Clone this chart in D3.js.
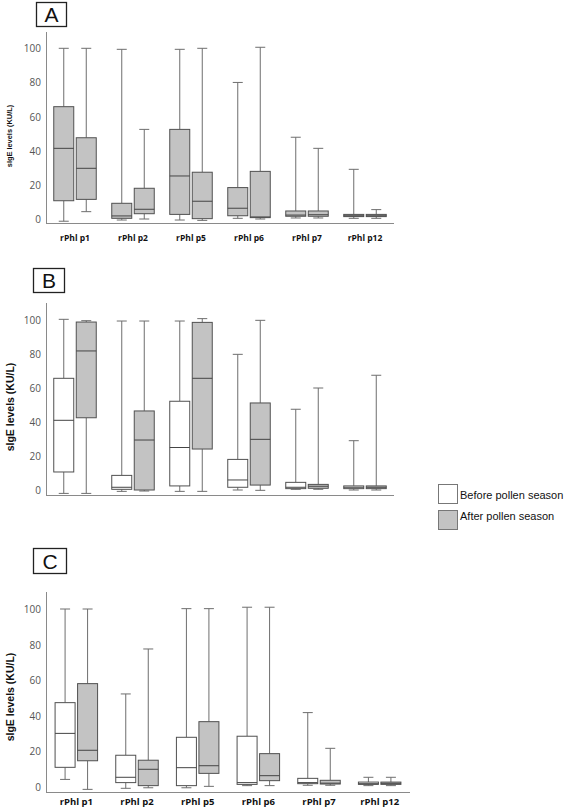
<!DOCTYPE html>
<html>
<head>
<meta charset="utf-8">
<script src="https://cdn.jsdelivr.net/npm/d3@7"></script>
<style>
  html, body { margin: 0; padding: 0; background: #fff; }
  svg { display: block; }
</style>
</head>
<body>
<svg id="chart" width="567" height="809"></svg>
<script>
// ---------------- DATA ----------------
const categories = ["rPhl p1", "rPhl p2", "rPhl p5", "rPhl p6", "rPhl p7", "rPhl p12"];
const tickLabels = [0, 20, 40, 60, 80, 100];
const seriesNames = ["Before pollen season", "After pollen season"];
const panelLetters = ["A", "B", "C"];

// five-number summaries: [low whisker, Q1, median, Q3, high whisker]
const aBefore = [[-1.3, 10.7, 41.4, 65.8, 100], [-0.6, 0.4, 1.8, 9.2, 99.4], [-0.6, 2.7, 25.2, 52.5, 99.4], [0.4, 1.9, 6.3, 18.4, 80], [0.6, 1.6, 2.3, 4.7, 47.9], [0.4, 1.4, 1.9, 2.7, 29.1]];
const aAfter  = [[4.3, 11.5, 29.7, 47.6, 100], [0, 3.1, 5.7, 18, 52.5], [-0.8, 0.2, 10.4, 27.4, 100], [0, 0.8, 1.2, 27.9, 100.6], [0.6, 1.6, 2.5, 4.7, 41.4], [0.4, 1.4, 1.9, 2.7, 5.5]];
const bBefore = [[-2, 10.6, 41, 65.7, 100.4], [-0.8, 0.4, 1.6, 8.6, 99.4], [-0.8, 2.4, 25, 52.2, 99.4], [0, 1.6, 5.9, 18, 79.8], [0.4, 0.8, 1.6, 4.5, 47.5], [0, 0.8, 1.6, 2.4, 29]];
const bAfter  = [[-2, 42.5, 81.8, 98.8, 99.6], [-0.6, 0, 29.4, 46.5, 99.4], [-0.8, 24.1, 65.7, 98.6, 100.8], [-0.2, 2.9, 29.8, 51.2, 99.8], [0.4, 1, 2.2, 3.3, 60], [0, 0.8, 1.6, 2.4, 67.5]];
const cBefore = [[4.1, 10.9, 30, 47.3, 100], [-0.9, 2.3, 5.3, 17.7, 52.2], [-0.6, 0.6, 10.7, 27.8, 100.2], [0.6, 1.3, 2.3, 28.4, 101], [0.8, 1.7, 2.3, 4.7, 41.7], [0.6, 1.3, 1.7, 2.6, 5.3]];
const cAfter  = [[-1.5, 14.6, 20.5, 58, 100], [-0.6, 0.6, 9.8, 14.9, 77.5], [0.2, 7.5, 11.8, 36.6, 100.2], [0.6, 3.4, 6.2, 18.6, 101], [0.8, 1.5, 2, 3.6, 21.6], [0.6, 1.3, 1.9, 2.6, 5.3]];

// ---------------- LAYOUT ----------------
const svg = d3.select("#chart");
const panels = [
  { letter: panelLetters[0], series: [aBefore, aAfter], fills: ["#c3c3c3", "#c3c3c3"],
    lab: { x: 36, y: 2, w: 30, h: 24 }, axTop: 32, axBottom: 223, xEnd: 394,
    y0: 219, y100: 48.3, showCats: true, catY: 238, catSize: 8.5, titleSize: 7.4, titleY: 136 },
  { letter: panelLetters[1], series: [bBefore, bAfter], fills: ["#ffffff", "#c3c3c3"],
    lab: { x: 33, y: 268, w: 31, h: 24 }, axTop: 303, axBottom: 495, xEnd: 394,
    y0: 490, y100: 320, showCats: false, titleSize: 10.5, titleY: 407 },
  { letter: panelLetters[2], series: [cBefore, cAfter], fills: ["#ffffff", "#c3c3c3"],
    lab: { x: 33, y: 548, w: 33, h: 25 }, axTop: 592, axBottom: 792, xEnd: 410,
    y0: 786.7, y100: 609, showCats: true, catY: 801.5, catSize: 9.5, titleSize: 10.5, titleY: 697 }
];

const axisColor = "#8a8a8a";
const boxStroke = "#505050";
const whiskerColor = "#6e6e6e";
const boxW = 20, capW = 10, gap = 2.5;

panels.forEach(p => {
  const g = svg.append("g");
  const x = d3.scaleBand().domain(categories).range([46, p.xEnd]).paddingInner(0).paddingOuter(0);
  const y = d3.scaleLinear().domain([0, 100]).range([p.y0, p.y100]);

  // panel letter
  g.append("rect").attr("x", p.lab.x + 0.5).attr("y", p.lab.y + 0.5)
    .attr("width", p.lab.w).attr("height", p.lab.h)
    .attr("fill", "#fff").attr("stroke", "#222").attr("stroke-width", 1.3);
  g.append("text").attr("x", p.lab.x + p.lab.w / 2 + 0.5).attr("y", p.lab.y + p.lab.h / 2 + 8)
    .attr("text-anchor", "middle").attr("font-family", "Liberation Sans, Arial, sans-serif")
    .attr("font-size", 21).attr("fill", "#111").text(p.letter);

  // axes lines
  g.append("line").attr("x1", 46.5).attr("x2", 46.5).attr("y1", p.axTop).attr("y2", p.axBottom)
    .attr("stroke", axisColor).attr("stroke-width", 1);
  g.append("line").attr("x1", 46).attr("x2", p.xEnd).attr("y1", p.axBottom + 0.5).attr("y2", p.axBottom + 0.5)
    .attr("stroke", axisColor).attr("stroke-width", 1);

  // y tick labels via axis
  const yAxis = d3.axisLeft(y).tickValues(tickLabels).tickSize(0).tickPadding(0).tickFormat(d3.format("d"));
  const ya = g.append("g").attr("transform", "translate(41,0)").call(yAxis);
  ya.select(".domain").remove();
  ya.selectAll("text").attr("font-family", "Open Sans, sans-serif").attr("font-size", 10)
    .attr("fill", "#555").attr("dy", "0.35em");

  // y title
  g.append("text")
    .attr("transform", `translate(${p.titleSize > 9 ? 14 : 12},${p.titleY}) rotate(-90)`)
    .attr("text-anchor", "middle").attr("font-family", "Liberation Sans, Arial, sans-serif")
    .attr("font-weight", "bold").attr("font-size", p.titleSize).attr("fill", "#111")
    .text("sIgE levels (KU/L)");

  // category labels via axis
  if (p.showCats) {
    const xAxis = d3.axisBottom(x).tickSize(0).tickPadding(0);
    const xa = g.append("g").attr("transform", `translate(0,${p.catY})`).call(xAxis);
    xa.select(".domain").remove();
    xa.selectAll("text").attr("font-family", "Open Sans, sans-serif").attr("font-weight", "bold")
      .attr("font-size", p.catSize).attr("fill", "#111").attr("dy", "0.35em");
  }

  // boxes
  p.series.forEach((ser, si) => {
    ser.forEach((v, ci) => {
      const cx = x(categories[ci]) + x.bandwidth() / 2 + (si === 0 ? -(boxW / 2 + gap / 2) : (boxW / 2 + gap / 2));
      const [lo, q1, med, q3, hi] = v;
      const bg = g.append("g");
      // whiskers
      bg.append("line").attr("x1", cx).attr("x2", cx).attr("y1", y(hi)).attr("y2", y(q3))
        .attr("stroke", whiskerColor).attr("stroke-width", 1);
      bg.append("line").attr("x1", cx).attr("x2", cx).attr("y1", y(q1)).attr("y2", y(lo))
        .attr("stroke", whiskerColor).attr("stroke-width", 1);
      bg.append("line").attr("x1", cx - capW / 2).attr("x2", cx + capW / 2).attr("y1", y(hi)).attr("y2", y(hi))
        .attr("stroke", whiskerColor).attr("stroke-width", 1);
      bg.append("line").attr("x1", cx - capW / 2).attr("x2", cx + capW / 2).attr("y1", y(lo)).attr("y2", y(lo))
        .attr("stroke", whiskerColor).attr("stroke-width", 1);
      // box
      bg.append("rect").attr("x", cx - boxW / 2).attr("y", y(q3))
        .attr("width", boxW).attr("height", Math.max(1, y(q1) - y(q3)))
        .attr("fill", p.fills[si]).attr("stroke", boxStroke).attr("stroke-width", 1);
      bg.append("line").attr("x1", cx - boxW / 2).attr("x2", cx + boxW / 2).attr("y1", y(med)).attr("y2", y(med))
        .attr("stroke", "#444").attr("stroke-width", 1);
    });
  });
});

// legend
const legend = svg.append("g");
const legFills = ["#ffffff", "#c3c3c3"];
const legY = [484, 510];
seriesNames.forEach((name, i) => {
  legend.append("rect").attr("x", 438.5).attr("y", legY[i] + 0.5).attr("width", 19).attr("height", 19)
    .attr("fill", legFills[i]).attr("stroke", "#777").attr("stroke-width", 1);
  legend.append("text").attr("x", 460).attr("y", legY[i] + (i === 0 ? 15 : 10))
    .attr("font-family", "Liberation Sans, Arial, sans-serif").attr("font-size", 11).attr("fill", "#111")
    .text(name);
});
</script>
</body>
</html>
